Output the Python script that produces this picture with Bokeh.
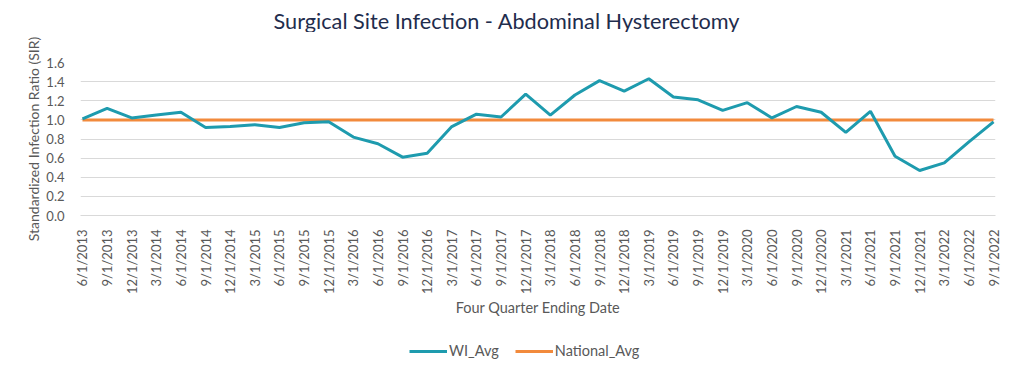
import math
from bokeh.plotting import figure
from bokeh.layouts import column
from bokeh.models import Range1d, FixedTicker, Legend, LegendItem, ColumnDataSource, Label
from bokeh.embed import file_html
from bokeh.resources import INLINE

dates = ["6/1/2013", "9/1/2013", "12/1/2013",
         "3/1/2014", "6/1/2014", "9/1/2014", "12/1/2014",
         "3/1/2015", "6/1/2015", "9/1/2015", "12/1/2015",
         "3/1/2016", "6/1/2016", "9/1/2016", "12/1/2016",
         "3/1/2017", "6/1/2017", "9/1/2017", "12/1/2017",
         "3/1/2018", "6/1/2018", "9/1/2018", "12/1/2018",
         "3/1/2019", "6/1/2019", "9/1/2019", "12/1/2019",
         "3/1/2020", "6/1/2020", "9/1/2020", "12/1/2020",
         "3/1/2021", "6/1/2021", "9/1/2021", "12/1/2021",
         "3/1/2022", "6/1/2022", "9/1/2022"]
wi_avg = [1.01, 1.12, 1.02, 1.05, 1.08, 0.92, 0.93, 0.95, 0.92, 0.97, 0.98,
          0.82, 0.75, 0.61, 0.65, 0.93, 1.06, 1.03, 1.27, 1.05, 1.26, 1.41,
          1.30, 1.43, 1.24, 1.21, 1.10, 1.18, 1.02, 1.14, 1.08, 0.87, 1.09,
          0.62, 0.47, 0.55, 0.77, 0.98]
national_avg = [1.0] * len(dates)
y_ticks = [0.0, 0.2, 0.4, 0.6, 0.8, 1.0, 1.2, 1.4, 1.6]
title_text = "Surgical Site Infection - Abdominal Hysterectomy"
series_names = ["WI_Avg", "National_Avg"]

FONT = "Lato"
GRAY = "#595959"
TEAL = "#1E9BAE"
ORANGE = "#F28A3C"
W = 1014
LEFT, RIGHT = 80, 19

idx = list(range(len(dates)))
src = ColumnDataSource(dict(x=idx, wi=wi_avg, nat=national_avg))


def strip(h, y_range):
    f = figure(width=W, height=h, x_range=Range1d(LEFT, W - RIGHT), y_range=y_range,
               x_axis_type=None, y_axis_type=None,
               min_border_left=LEFT, min_border_right=RIGHT, min_border_top=0, min_border_bottom=0,
               output_backend="svg", toolbar_location=None)
    f.outline_line_color = None
    f.xgrid.visible = False
    f.ygrid.visible = False
    return f


# --- title strip (page pixels) ---
top = strip(32, Range1d(0, 32))
top.add_layout(Label(x=273, y=12, text=title_text, text_font=FONT, text_font_size="21.7px",
                     text_color="#1F2D4D", text_align="left", text_baseline="middle"))

# --- main chart ---
p = figure(width=W, height=291,
           min_border_left=LEFT, min_border_right=RIGHT, min_border_top=30, min_border_bottom=108,
           x_range=Range1d(-0.08, 37.08), y_range=Range1d(0, 1.6),
           output_backend="svg", toolbar_location=None)
p.outline_line_color = None

r_nat = p.line("x", "nat", source=src, line_color=ORANGE, line_width=3)
r_wi = p.line("x", "wi", source=src, line_color=TEAL, line_width=3)

p.xaxis.ticker = FixedTicker(ticks=idx)
p.xaxis.major_label_overrides = {i: d for i, d in enumerate(dates)}
p.xaxis.major_label_orientation = math.pi / 2
p.xaxis.major_label_text_font = FONT
p.xaxis.major_label_text_font_size = "13px"
p.xaxis.major_label_text_color = GRAY
p.xaxis.major_tick_line_color = None
p.xaxis.minor_tick_line_color = None
p.xaxis.axis_line_color = "#D9D9D9"
p.xaxis.major_label_standoff = 8
p.xaxis.axis_label = "Four Quarter Ending Date"
p.xaxis.axis_label_text_font = FONT
p.xaxis.axis_label_text_font_size = "14.5px"
p.xaxis.axis_label_text_font_style = "normal"
p.xaxis.axis_label_text_color = GRAY
p.xaxis.axis_label_standoff = 2

p.yaxis.ticker = FixedTicker(ticks=y_ticks)
p.yaxis.major_label_overrides = {t: f"{t:.1f}" for t in y_ticks}
p.yaxis.major_label_text_font = FONT
p.yaxis.major_label_text_font_size = "13px"
p.yaxis.major_label_text_color = GRAY
p.yaxis.major_tick_line_color = None
p.yaxis.minor_tick_line_color = None
p.yaxis.axis_line_color = None
p.yaxis.major_label_standoff = 10
p.yaxis.axis_label = "Standardized Infection Ratio (SIR)"
p.yaxis.axis_label_text_font = FONT
p.yaxis.axis_label_text_font_size = "14px"
p.yaxis.axis_label_text_font_style = "normal"
p.yaxis.axis_label_text_color = GRAY
p.yaxis.axis_label_standoff = 1

p.xgrid.grid_line_color = None
p.ygrid.ticker = FixedTicker(ticks=y_ticks)
p.ygrid.grid_line_color = "#D9D9D9"
p.ygrid.grid_line_width = 1

# --- legend strip: same series drawn out of view, only the legend shows ---
bot = strip(55, Range1d(100, 155))
l_nat = bot.line("x", "nat", source=src, line_color=ORANGE, line_width=3)
l_wi = bot.line("x", "wi", source=src, line_color=TEAL, line_width=3)
legend = Legend(items=[LegendItem(label=series_names[0], renderers=[l_wi]),
                       LegendItem(label=series_names[1], renderers=[l_nat])],
                orientation="horizontal", location=(329, 19),
                label_text_font=FONT, label_text_font_size="14.5px", label_text_color=GRAY,
                glyph_width=38, glyph_height=12, label_standoff=2, spacing=16,
                border_line_color=None, background_fill_alpha=0, margin=0, padding=4)
bot.add_layout(legend, "center")

layout = column(top, p, bot, spacing=0)
open("out.html", "w").write(file_html(layout, INLINE))
